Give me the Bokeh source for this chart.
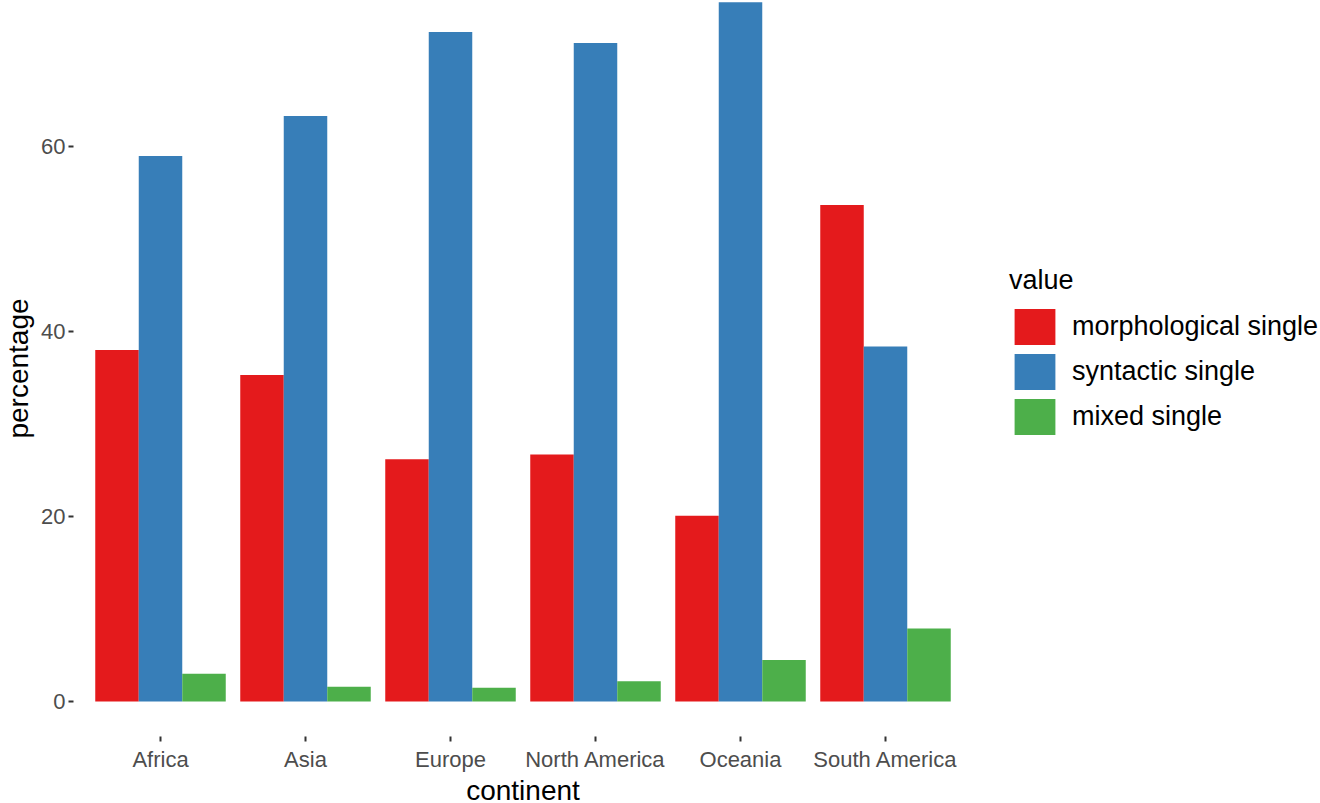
from bokeh.embed import file_html
from bokeh.models import FactorRange, Range1d, Legend, LegendItem, FixedTicker
from bokeh.plotting import figure
from bokeh.resources import INLINE
from bokeh.transform import dodge

# data
continents = ['Africa', 'Asia', 'Europe', 'North America', 'Oceania', 'South America']
morphological = [38.0, 35.3, 26.2, 26.7, 20.1, 53.7]
syntactic = [59.0, 63.3, 72.4, 71.2, 75.6, 38.4]
mixed = [3.0, 1.6, 1.5, 2.2, 4.5, 7.9]
series_names = ['morphological single', 'syntactic single', 'mixed single']
colors = ['#E41A1C', '#377EB8', '#4DAF4A']
y_ticks = [0, 20, 40, 60]

FONT = "Liberation Sans"

source = dict(continent=continents, morph=morphological, synt=syntactic, mixed=mixed)

# ggplot expands a discrete axis by 0.6 of a category around the outer centres
x_range = FactorRange(*continents, range_padding=0.1, range_padding_units="absolute")

p = figure(x_range=x_range, y_range=Range1d(-3.78, 75.8),
           frame_width=899, frame_height=736,
           min_border_left=10, min_border_top=0, min_border_right=0, min_border_bottom=0,
           output_backend="svg", toolbar_location=None, tools="")

bar_w = 0.3
renderers = []
for field, offset, color in zip(['morph', 'synt', 'mixed'], [-0.3, 0.0, 0.3], colors):
    r = p.vbar(x=dodge('continent', offset, range=p.x_range), top=field, bottom=0,
               width=bar_w, source=source, fill_color=color, line_color=None)
    renderers.append(r)

# ggplot-like look: no grid, no axis lines, short ticks
p.xgrid.grid_line_color = None
p.ygrid.grid_line_color = None
p.outline_line_color = None
p.background_fill_color = "white"

for ax in (p.xaxis, p.yaxis):
    ax.axis_line_color = None
    ax.major_tick_line_color = "#333333"
    ax.major_tick_line_width = 2
    ax.major_tick_in = 0
    ax.major_tick_out = 5
    ax.minor_tick_line_color = None
    ax.major_label_text_font = FONT
    ax.major_label_text_font_size = "22px"
    ax.major_label_text_color = "#4D4D4D"
    ax.axis_label_text_font = FONT
    ax.axis_label_text_font_size = "28px"
    ax.axis_label_text_font_style = "normal"
    ax.axis_label_text_color = "black"

p.yaxis.ticker = FixedTicker(ticks=y_ticks)
p.yaxis.axis_label = "percentage"
p.yaxis.major_label_standoff = 3
p.yaxis.axis_label_standoff = 4
p.xaxis.axis_label = "continent"
p.xaxis.major_label_standoff = 5
p.xaxis.axis_label_standoff = 0

legend = Legend(items=[LegendItem(label=n, renderers=[r]) for n, r in zip(series_names, renderers)],
                title="value", location=(37, 297))
legend.title_text_font = FONT
legend.title_text_font_size = "27px"
legend.title_text_font_style = "normal"
legend.title_text_color = "black"
legend.title_standoff = 8
legend.label_text_font = FONT
legend.label_text_font_size = "27px"
legend.label_text_color = "black"
legend.glyph_width = 51
legend.glyph_height = 45
legend.spacing = 0
legend.label_standoff = 12
legend.padding = 5
legend.margin = 0
legend.border_line_color = None
legend.background_fill_alpha = 0
p.add_layout(legend, 'right')

open("out.html", "w").write(file_html(p, INLINE))
